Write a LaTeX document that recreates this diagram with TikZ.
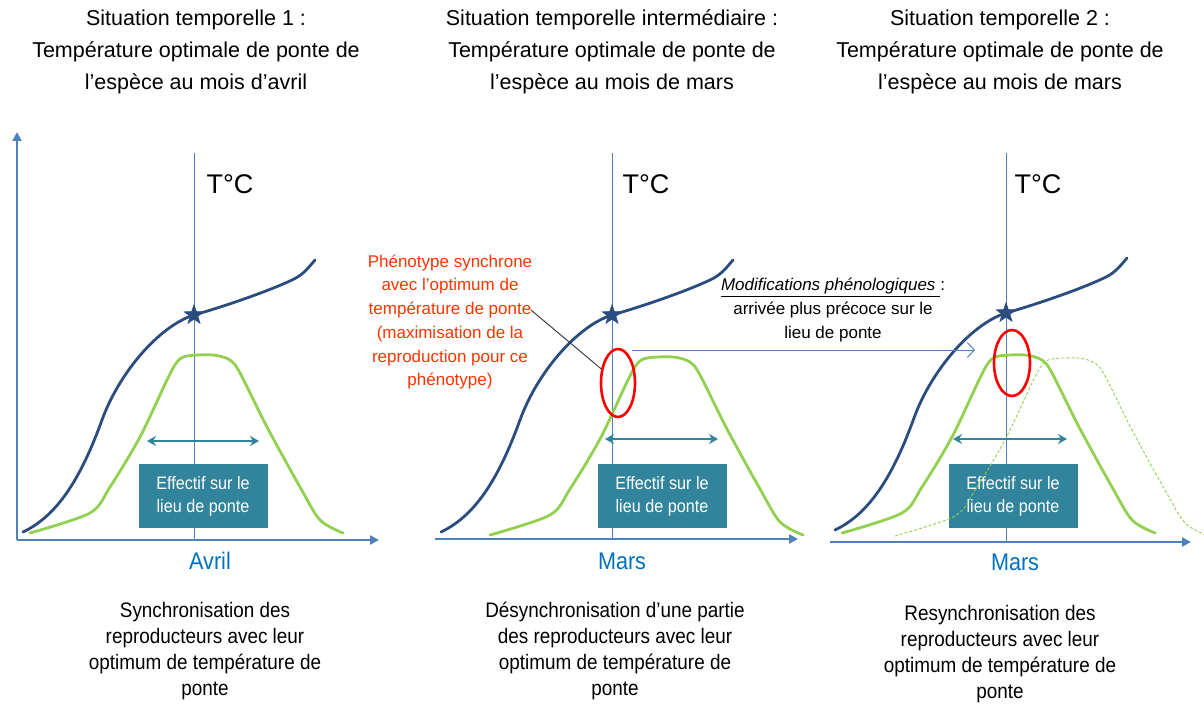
\documentclass[tikz,border=0pt]{standalone}
\usepackage{fontspec}
\setmainfont{Liberation Sans}
\newfontfamily\narrowfont{Liberation Sans}[FakeStretch=0.9]
\usepackage{tikz}
\usetikzlibrary{shapes.geometric, arrows.meta}
\usetikzlibrary{positioning}

\definecolor{tempblue}{HTML}{2B4C7E}
\definecolor{axisblue}{HTML}{4F81BD}
\definecolor{lightgreen}{HTML}{92D050}
\definecolor{tealbox}{HTML}{31849B}
\definecolor{tealarrow}{HTML}{31859C}
\definecolor{moisblue}{HTML}{0070C0}
\definecolor{phenored}{HTML}{FF3300}

\begin{document}
\begin{tikzpicture}[
                x=1pt, y=-1pt,
                axisline/.style={
                        draw=axisblue,
                        line width=2.6pt,
                        -{Triangle[length=9pt,width=9pt]}
                    },
                tline/.style={draw=axisblue, line width=0.9pt},
                tempcurve/.style={draw=tempblue, line width=2.8pt, line cap=round},
                effcurve/.style={draw=lightgreen, line width=2.8pt, line cap=round},
                shiftcurve/.style={draw=lightgreen, line width=0.9pt, dash pattern=on 3pt off 2pt},
                spread/.style={
                        draw=tealarrow,
                        line width=2.6pt,
                        {Stealth[length=9pt,width=10pt]}-{Stealth[length=9pt,width=10pt]}
                    },
                effbox/.style={
                        fill=tealbox,
                        text=white,
                        minimum width=129pt,
                        minimum height=64pt,
                        inner sep=0pt,
                        align=center,
                        font=\narrowfont\fontsize{18}{23}\selectfont
                    },
                optstar/.style={
                        star, star points=5, star point ratio=2.5,
                        fill=tempblue, draw=tempblue,
                        minimum size=21pt, inner sep=0pt
                    },
                oval/.style={ellipse, draw=red, line width=2.6pt, inner sep=0pt},
                titletext/.style={align=center, font=\fontsize{21.5}{32}\selectfont},
                captiontext/.style={align=center, font=\narrowfont\fontsize{21}{26}\selectfont},
                degtext/.style={font=\fontsize{27}{30}\selectfont},
                monthtext/.style={text=moisblue, font=\narrowfont\fontsize{24}{28}\selectfont},
                notetext/.style={align=center, font=\fontsize{17}{23.7}\selectfont},
                pics/tempshape/.style={code={
                        \draw[tempcurve] (-171,217) .. controls (-135,200) and (-112,160) .. (-92,105)
                                .. controls (-75,58) and (-35,11) .. (0,0)
                                .. controls (35,-10) and (80,-26) .. (100,-36)
                                .. controls (110,-41) and (115,-48) .. (121,-55);
                    }},
                pics/effshape/.style={code={
                        \draw[#1] plot[smooth, tension=0.5] coordinates {
                                (-170,178) (-110,158) (-90,132) (-60,82) (-33,25) (-23,7) (-13,1)
                                (13,0) (30,5) (40,18) (67,72) (100,132) (120,165) (143,178)};
                    }}
            ]

            \useasboundingbox (0,0) rectangle (1204,711);

            % Titles
            \node[titletext] (titre1) at (196,52) {Situation temporelle 1 :\\Température optimale de ponte de\\l’espèce au mois d’avril};
            \node[titletext] (titre2) at (612,52) {Situation temporelle intermédiaire :\\Température optimale de ponte de\\l’espèce au mois de mars};
            \node[titletext] (titre3) at (1000,52) {Situation temporelle 2 :\\Température optimale de ponte de\\l’espèce au mois de mars};

            % Axes
            \coordinate (o1) at (17,540);
            \coordinate (y1) at (17,132);
            \coordinate (x1) at (379,540);
            \coordinate (o2) at (435,539);
            \coordinate (x2) at (798,539);
            \coordinate (o3) at (830,542);
            \coordinate (x3) at (1191,542);
            \draw[axisline] (o1) -- (y1);
            \draw[axisline] (o1) -- (x1);
            \draw[axisline] (o2) -- (x2);
            \draw[axisline] (o3) -- (x3);

            % Optimal temperature dates
            \draw[tline] (194,153) -- (194,540);
            \draw[tline] (612,153) -- (612,539);
            \draw[tline] (1006,153) -- (1006,542);
            \node[degtext] (deg1) at (230,184) {T°C};
            \node[degtext] (deg2) at (646,184) {T°C};
            \node[degtext] (deg3) at (1038,184) {T°C};

            % Temperature and laying curves
            \pic at (194,315) {tempshape};
            \pic at (612,315) {tempshape};
            \pic at (1006,313) {tempshape};
            \pic at (200,355) {effshape=effcurve};
            \pic at (660,357) {effshape=effcurve};
            \pic at (1012,355) {effshape=effcurve};

            \node[optstar] (star1) at (194,315) {};
            \node[optstar] (star2) at (612,315) {};
            \node[optstar] (star3) at (1006,313) {};

            % Boxes
            \node[effbox] (box1) at (203,496) {Effectif sur le\\lieu de ponte};
            \node[effbox] (box2) at (662,496) {Effectif sur le\\lieu de ponte};
            \node[effbox] (box3) at (1013,496) {Effectif sur le\\lieu de ponte};
            \pic at (1065,358) {effshape=shiftcurve};

            \coordinate (l1) at (147,441);
            \coordinate (r1) at (259,441);
            \coordinate (l2) at (605,439);
            \coordinate (r2) at (718,439);
            \coordinate (l3) at (953,439);
            \coordinate (r3) at (1067,439);
            \draw[spread] (l1) -- (r1);
            \draw[spread] (l2) -- (r2);
            \draw[spread] (l3) -- (r3);

            % Months
            \node[monthtext] (mois1) at (210,561) {Avril};
            \node[monthtext] (mois2) at (622,561) {Mars};
            \node[monthtext] (mois3) at (1015,562) {Mars};

            % Synchronous phenotype
            \node[oval, minimum width=34pt, minimum height=68pt] (ovale2) at (618,383) {};
            \node[oval, minimum width=36pt, minimum height=66pt] (ovale3) at (1012,363) {};
            \node[notetext, text=phenored] (phenotxt) at (450,322) {Phénotype synchrone\\avec l’optimum de\\température de ponte\\(maximisation de la\\reproduction pour ce\\phénotype)};
            \coordinate (finponte) at (531,310);
            \draw[black!75, line width=1pt] (finponte) -- (ovale2.140);

            % Phenological shift
            \node[notetext] (modif) at (833,310) {\underline{\textit{Modifications phénologiques}~}:\\arrivée plus précoce sur le\\lieu de ponte};
            \coordinate (depart) at (632,350);
            \coordinate (arrivee) at (975,350);
            \draw[draw=axisblue, line width=1pt, -{Straight Barb[length=7pt,width=15pt]}] (depart) -- (arrivee);

            % Captions
            \node[captiontext] (legende1) at (205,651) {Synchronisation des\\reproducteurs avec leur\\optimum de température de\\ponte};
            \node[captiontext] (legende2) at (615,651) {Désynchronisation d’une partie\\des reproducteurs avec leur\\optimum de température de\\ponte};
            \node[captiontext] (legende3) at (1000,654) {Resynchronisation des\\reproducteurs avec leur\\optimum de température de\\ponte};

        \end{tikzpicture}
\end{document}
